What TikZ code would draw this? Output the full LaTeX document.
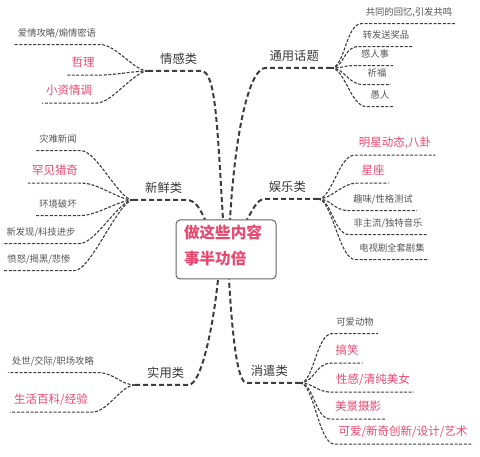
\documentclass[tikz,border=0pt]{standalone}
\usepackage{fontspec}
\newfontfamily\cjk{Noto Sans CJK SC}
\definecolor{hotpink}{RGB}{233,72,112}
\definecolor{leafgray}{RGB}{85,85,85}
\definecolor{catgray}{RGB}{55,55,55}
\definecolor{linegray}{RGB}{60,60,60}
\definecolor{boxgray}{RGB}{100,100,100}
\usetikzlibrary{calc}
\tikzset{
  cat/.style={font=\cjk\fontsize{12.3pt}{14pt}\selectfont, text=catgray, inner xsep=4pt, inner ysep=5pt, text height=9.8pt, text depth=1.8pt},
  leaf/.style={font=\cjk\fontsize{9.3pt}{11pt}\selectfont, text=leafgray, inner xsep=4pt, inner ysep=6pt, text height=7.4pt, text depth=1.4pt},
  hot/.style={leaf, font=\cjk\fontsize{11.5pt}{13pt}\selectfont, text=hotpink, inner ysep=6.5pt, text height=9.2pt, text depth=1.7pt},
  mainline/.style={draw=linegray, line width=2pt, dash pattern=on 5pt off 3pt},
  leafline/.style={draw=linegray, line width=1.1pt, dash pattern=on 3pt off 1.6pt},
  corebox/.style={draw=boxgray, line width=1pt, rounded corners=4pt, fill=white, minimum width=100pt, minimum height=59pt,
    text width=84pt, inner xsep=8pt, inner ysep=3pt, align=left, text=hotpink, text depth=36pt,
    font=\cjk\bfseries\fontsize{15.6pt}{26pt}\selectfont}
}
\begin{document}
\begin{tikzpicture}[x=1pt, y=-1pt]
  \useasboundingbox (0,0) rectangle (480,457);
  \node[corebox] (core) at (226,249.5) {做这些内容\\事半功倍};

  \coordinate (qg) at (148,71);
  \node[cat, anchor=south west] (qgt) at ([xshift=8pt]qg) {情感类};
  \draw[mainline] (qg) -- (qgt.south east) .. controls +(14,0) and +(-6,-100) .. ([xshift=-3pt]core.north);
  \node[leaf] (qg1) at (57,34) {爱情攻略/煽情密语};
  \node[hot] (qg2) at (83,63) {哲理};
  \node[hot] (qg3) at (69,91) {小资情调};
  \draw[leafline] (qg) .. controls +(-14,0) and +(16,0) .. (qg1.south east) -- (qg1.south west);
  \draw[leafline] (qg) .. controls +(-14,0) and +(16,0) .. (qg2.south east) -- (qg2.south west);
  \draw[leafline] (qg) .. controls +(-14,0) and +(16,0) .. (qg3.south east) -- (qg3.south west);

  \coordinate (xx) at (133,200);
  \node[cat, anchor=south west] (xxt) at ([xshift=8pt]xx) {新鲜类};
  \draw[mainline] (xx) -- (xxt.south east) .. controls +(10,0) and +(-5,-10) .. ([xshift=-21pt]core.north);
  \node[leaf] (xx1) at (58,140) {灾难新闻};
  \node[hot] (xx2) at (55,171) {罕见猎奇};
  \node[leaf] (xx3) at (58,205) {环境破坏};
  \node[leaf] (xx4) at (41,233) {新发现/科技进步};
  \node[leaf] (xx5) at (39,260) {愤怒/揭黑/悲惨};
  \draw[leafline] (xx) .. controls +(-14,0) and +(16,0) .. (xx1.south east) -- (xx1.south west);
  \draw[leafline] (xx) .. controls +(-14,0) and +(16,0) .. (xx2.south east) -- (xx2.south west);
  \draw[leafline] (xx) .. controls +(-14,0) and +(16,0) .. (xx3.south east) -- (xx3.south west);
  \draw[leafline] (xx) .. controls +(-14,0) and +(16,0) .. (xx4.south east) -- (xx4.south west);
  \draw[leafline] (xx) .. controls +(-14,0) and +(16,0) .. (xx5.south east) -- (xx5.south west);

  \coordinate (sy) at (135,385);
  \node[cat, anchor=south west] (syt) at ([xshift=8pt]sy) {实用类};
  \draw[mainline] (sy) -- (syt.south east) .. controls +(14,0) and +(-4,40) .. ([xshift=-8pt]core.south);
  \node[leaf] (sy1) at (53,362) {处世/交际/职场攻略};
  \node[hot] (sy2) at (51,400) {生活百科/经验};
  \draw[leafline] (sy) .. controls +(-14,0) and +(16,0) .. (sy1.south east) -- (sy1.south west);
  \draw[leafline] (sy) .. controls +(-14,0) and +(16,0) .. (sy2.south east) -- (sy2.south west);

  \coordinate (ty) at (331,68);
  \node[cat, anchor=south east] (tyt) at ([xshift=-8pt]ty) {通用话题};
  \draw[mainline] (ty) -- (tyt.south west) .. controls +(-14,0) and +(6,-100) .. ([xshift=4pt]core.north);
  \node[leaf] (ty1) at (409,13) {共同的回忆,引发共鸣};
  \node[leaf] (ty2) at (386,36) {转发送奖品};
  \node[leaf] (ty3) at (375,55) {感人事};
  \node[leaf] (ty4) at (377,74) {祈福};
  \node[leaf] (ty5) at (380,96) {愚人};
  \draw[leafline] (ty) .. controls +(14,0) and +(-16,0) .. (ty1.south west) -- (ty1.south east);
  \draw[leafline] (ty) .. controls +(14,0) and +(-16,0) .. (ty2.south west) -- (ty2.south east);
  \draw[leafline] (ty) .. controls +(14,0) and +(-16,0) .. (ty3.south west) -- (ty3.south east);
  \draw[leafline] (ty) .. controls +(14,0) and +(-16,0) .. (ty4.south west) -- (ty4.south east);
  \draw[leafline] (ty) .. controls +(14,0) and +(-16,0) .. (ty5.south west) -- (ty5.south east);

  \coordinate (yl) at (318,199);
  \node[cat, anchor=south east] (ylt) at ([xshift=-8pt]yl) {娱乐类};
  \draw[mainline] (yl) -- (ylt.south west) .. controls +(-8,0) and +(5,-8) .. ([xshift=21pt]core.north);
  \node[hot] (yl1) at (395,143) {明星动态,八卦};
  \node[hot] (yl2) at (373,171) {星座};
  \node[leaf] (yl3) at (383,200) {趣味/性格测试};
  \node[leaf] (yl4) at (388,224) {非主流/独特音乐};
  \node[leaf] (yl5) at (392,249) {电视剧全套剧集};
  \draw[leafline] (yl) .. controls +(14,0) and +(-16,0) .. (yl1.south west) -- (yl1.south east);
  \draw[leafline] (yl) .. controls +(14,0) and +(-16,0) .. (yl2.south west) -- (yl2.south east);
  \draw[leafline] (yl) .. controls +(14,0) and +(-16,0) .. (yl3.south west) -- (yl3.south east);
  \draw[leafline] (yl) .. controls +(14,0) and +(-16,0) .. (yl4.south west) -- (yl4.south east);
  \draw[leafline] (yl) .. controls +(14,0) and +(-16,0) .. (yl5.south west) -- (yl5.south east);

  \coordinate (xq) at (300,383);
  \node[cat, anchor=south east] (xqt) at ([xshift=-8pt]xq) {消遣类};
  \draw[mainline] (xq) -- (xqt.south west) .. controls +(-10,0) and +(3,50) .. ([xshift=3pt]core.south);
  \node[leaf] (xq1) at (355,323) {可爱动物};
  \node[hot] (xq2) at (347,351) {搞笑};
  \node[hot] (xq3) at (373,380) {性感/清纯美女};
  \node[hot] (xq4) at (358,407) {美景摄影};
  \node[hot] (xq5) at (403,432) {可爱/新奇创新/设计/艺术};
  \draw[leafline] (xq) .. controls +(14,0) and +(-16,0) .. (xq1.south west) -- (xq1.south east);
  \draw[leafline] (xq) .. controls +(14,0) and +(-16,0) .. (xq2.south west) -- (xq2.south east);
  \draw[leafline] (xq) .. controls +(14,0) and +(-16,0) .. (xq3.south west) -- (xq3.south east);
  \draw[leafline] (xq) .. controls +(14,0) and +(-16,0) .. (xq4.south west) -- (xq4.south east);
  \draw[leafline] (xq) .. controls +(14,0) and +(-16,0) .. (xq5.south west) -- (xq5.south east);
\end{tikzpicture}
\end{document}
